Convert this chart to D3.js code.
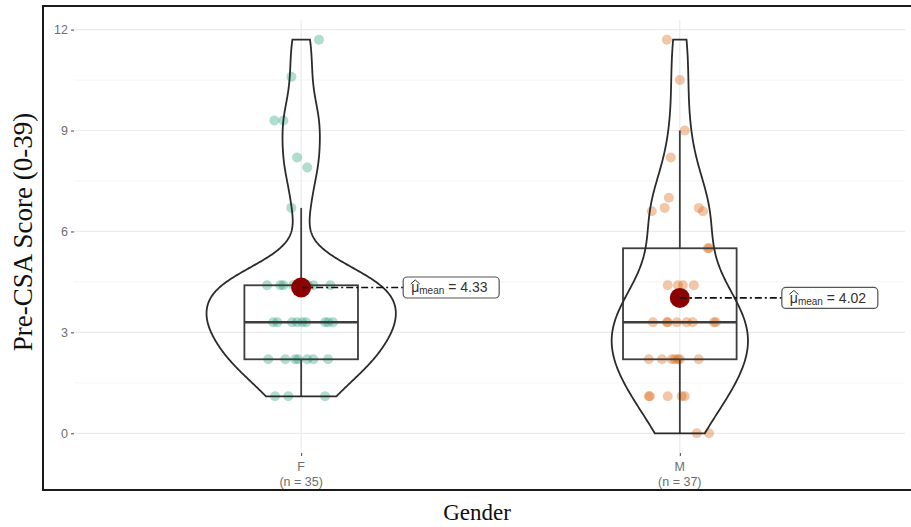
<!DOCTYPE html>
<html>
<head>
<meta charset="utf-8">
<script src="https://cdn.jsdelivr.net/npm/d3@7"></script>
<style>
  body { margin: 0; background: #fff; }
</style>
</head>
<body>
<div id="chart"></div>
<script>
// groups and sample sizes
var groups = ["F", "M"];
var groupN = [35, 37];
var yTicks = [0, 3, 6, 9, 12];
var yMinor = [1.5, 4.5, 7.5, 10.5];

// scores, with the horizontal jitter (in % of category step)
var scoresF = [11.7, 10.6, 9.3, 9.3, 8.2, 7.9, 6.7,
  4.4, 4.4, 4.4, 4.4, 4.4, 4.4, 4.4, 4.4, 4.4,
  3.3, 3.3, 3.3, 3.3, 3.3, 3.3, 3.3, 3.3, 3.3,
  2.2, 2.2, 2.2, 2.2, 2.2, 2.2, 2.2,
  1.1, 1.1, 1.1];
var jitterF = [4.7, -2.6, -7.1, -4.7, -1.1, 1.6, -2.6,
  -9.0, -5.5, -4.7, -2.1, -0.8, 0.8, 1.8, 3.2, 7.7,
  -7.4, -6.3, -2.4, -1.1, 0.3, 1.3, 6.3, 7.1, 8.4,
  -8.7, -4.2, -1.6, -0.8, 1.6, 3.2, 7.1,
  -6.9, -3.4, 6.3];

var scoresM = [11.7, 10.5, 9.0, 8.2, 7.0, 6.7, 6.6, 6.7, 6.6, 5.5, 5.5,
  4.4, 4.4, 4.4, 4.4,
  3.3, 3.3, 3.3, 3.3, 3.3, 3.3, 3.3, 3.3,
  2.2, 2.2, 2.2, 2.2, 2.2, 2.2, 2.2,
  1.1, 1.1, 1.1, 1.1, 1.1,
  0, 0];
var jitterM = [-3.4, 0, 1.3, -2.4, -2.9, -4.0, -7.4, 5.0, 6.1, 7.7, 7.4,
  -3.2, -0.5, 3.7, 0.8,
  -7.1, -3.4, -3.2, -0.8, 1.8, 3.4, 9.0, 9.5,
  -8.2, -4.7, -2.1, -1.3, -0.5, 0, 5.0,
  -8.2, -7.9, -3.2, 0.5, 1.3,
  4.5, 7.7];

var scores = [scoresF, scoresM];
var jitters = [jitterF, jitterM];
var colors = ["#1b9e77", "#d95f02"];

var W = 911, H = 527;
var svg = d3.select("#chart").append("svg")
  .attr("width", W)
  .attr("height", H);

var panel = { left: 74, right: 907, top: 20, bottom: 453 };

var x = d3.scalePoint()
  .domain(groups)
  .range([panel.left, panel.right])
  .padding(0.6);
var step = x.step();

var y = d3.scaleLinear()
  .domain([-0.585, 12.285])
  .range([panel.bottom, panel.top]);

// outer frame of the figure
svg.append("rect")
  .attr("x", 43).attr("y", 6)
  .attr("width", 920).attr("height", 484)
  .attr("fill", "none")
  .attr("stroke", "#1a1a1a")
  .attr("stroke-width", 2);

// grid
var grid = svg.append("g");
grid.selectAll(".minor").data(yMinor).enter().append("line")
  .attr("x1", panel.left).attr("x2", panel.right - 2)
  .attr("y1", function (d) { return y(d); })
  .attr("y2", function (d) { return y(d); })
  .attr("stroke", "#f4f4f4").attr("stroke-width", 1);
grid.selectAll(".major").data(yTicks).enter().append("line")
  .attr("x1", panel.left).attr("x2", panel.right - 2)
  .attr("y1", function (d) { return y(d); })
  .attr("y2", function (d) { return y(d); })
  .attr("stroke", "#ebebeb").attr("stroke-width", 1.2);
grid.selectAll(".vmajor").data(groups).enter().append("line")
  .attr("x1", function (d) { return x(d); })
  .attr("x2", function (d) { return x(d); })
  .attr("y1", panel.top).attr("y2", panel.bottom)
  .attr("stroke", "#ebebeb").attr("stroke-width", 1.2);

// axes
var yAxis = svg.append("g")
  .attr("transform", "translate(" + panel.left + ",0)")
  .call(d3.axisLeft(y).tickValues(yTicks).tickSize(3).tickPadding(3));
yAxis.select(".domain").remove();
yAxis.selectAll(".tick line").attr("stroke", "#444");
yAxis.selectAll("text")
  .attr("font-family", "Liberation Sans, Arial, sans-serif")
  .attr("font-size", 12.5)
  .attr("fill", "#6e6e6e");

var xAxis = svg.append("g")
  .attr("transform", "translate(0," + panel.bottom + ")")
  .call(d3.axisBottom(x).tickSize(3).tickFormat(""));
xAxis.select(".domain").remove();
xAxis.selectAll(".tick line").attr("stroke", "#444");

var xLab = svg.append("g").selectAll("text").data(groups).enter().append("text")
  .attr("text-anchor", "middle")
  .attr("font-family", "Liberation Sans, Arial, sans-serif")
  .attr("font-size", 12.5)
  .attr("fill", "#6e6e6e");
xLab.append("tspan")
  .attr("x", function (d) { return x(d); })
  .attr("y", 471)
  .text(function (d) { return d; });
xLab.append("tspan")
  .attr("x", function (d) { return x(d); })
  .attr("y", 486)
  .text(function (d, i) { return "(n = " + groupN[i] + ")"; });

// axis titles
svg.append("text")
  .attr("transform", "translate(32,232) rotate(-90)")
  .attr("text-anchor", "middle")
  .attr("font-family", "Liberation Serif, Times New Roman, serif")
  .attr("font-size", 27)
  .attr("fill", "#111")
  .text("Pre-CSA Score (0-39)");
svg.append("text")
  .attr("x", 477).attr("y", 520)
  .attr("text-anchor", "middle")
  .attr("font-family", "Liberation Serif, Times New Roman, serif")
  .attr("font-size", 23)
  .attr("fill", "#111")
  .text("Gender");

// points
groups.forEach(function (g, gi) {
  svg.append("g").selectAll("circle")
    .data(scores[gi]).enter().append("circle")
    .attr("cx", function (d, i) { return x(g) + jitters[gi][i] / 100 * step; })
    .attr("cy", function (d) { return y(d); })
    .attr("r", 5)
    .attr("fill", colors[gi])
    .attr("fill-opacity", 0.35);
});

// boxplots
groups.forEach(function (g, gi) {
  var s = scores[gi].slice().sort(d3.ascending);
  var q1 = d3.quantileSorted(s, 0.25), med = d3.quantileSorted(s, 0.5), q3 = d3.quantileSorted(s, 0.75);
  var iqr = q3 - q1;
  var lo = d3.min(s.filter(function (v) { return v >= q1 - 1.5 * iqr - 1e-9; }));
  var hi = d3.max(s.filter(function (v) { return v <= q3 + 1.5 * iqr + 1e-9; }));
  var cx = x(g), hw = 0.15 * step;
  var b = svg.append("g").attr("stroke", "#3d3d3d").attr("fill", "none").attr("stroke-width", 1.8);
  b.append("line").attr("x1", cx).attr("x2", cx).attr("y1", y(q3)).attr("y2", y(hi));
  b.append("line").attr("x1", cx).attr("x2", cx).attr("y1", y(q1)).attr("y2", y(lo));
  b.append("rect").attr("x", cx - hw).attr("width", 2 * hw)
    .attr("y", y(q3)).attr("height", y(q1) - y(q3));
  b.append("line").attr("x1", cx - hw).attr("x2", cx + hw)
    .attr("y1", y(med)).attr("y2", y(med)).attr("stroke-width", 2.6);
});

// violins (gaussian kernel, nrd0 bandwidth, trimmed, scaled by area)
function density(values) {
  var s = values.slice().sort(d3.ascending), n = s.length;
  var sd = d3.deviation(s);
  var iqr = d3.quantileSorted(s, 0.75) - d3.quantileSorted(s, 0.25);
  var bw = 0.9 * Math.min(sd, iqr / 1.34) * Math.pow(n, -0.2);
  var lo = s[0], hi = s[n - 1];
  return d3.range(512).map(function (i) {
    var t = lo + (hi - lo) * i / 511;
    var d = d3.sum(s, function (v) { var z = (t - v) / bw; return Math.exp(-0.5 * z * z); });
    return [t, d / (n * bw * Math.sqrt(2 * Math.PI))];
  });
}
var dens = scores.map(density);
var maxD = d3.max(dens, function (ds) { return d3.max(ds, function (d) { return d[1]; }); });
var wScale = d3.scaleLinear().domain([0, maxD]).range([0, 0.25 * step]);

groups.forEach(function (g, gi) {
  var cx = x(g);
  var area = d3.area()
    .y(function (d) { return y(d[0]); })
    .x0(function (d) { return cx - wScale(d[1]); })
    .x1(function (d) { return cx + wScale(d[1]); });
  svg.append("path")
    .datum(dens[gi])
    .attr("d", area)
    .attr("fill", "none")
    .attr("stroke", "#2b2b2b")
    .attr("stroke-width", 1.8);
});

// means and labels
groups.forEach(function (g, gi) {
  var m = d3.mean(scores[gi]);
  var cx = x(g), cy = y(m);
  var bx = cx + 102, bw = 96, bh = 21;
  svg.append("line")
    .attr("x1", cx).attr("x2", bx)
    .attr("y1", cy).attr("y2", cy)
    .attr("stroke", "#111")
    .attr("stroke-width", 1.6)
    .attr("stroke-dasharray", "7,3,2,3");
  svg.append("circle")
    .attr("cx", cx).attr("cy", cy).attr("r", 10)
    .attr("fill", "#8b0000");
  svg.append("line")
    .attr("x1", cx).attr("x2", cx + 12)
    .attr("y1", cy).attr("y2", cy)
    .attr("stroke", "#111")
    .attr("stroke-width", 1.6)
    .attr("stroke-dasharray", "7,3,2,3");

  var lab = svg.append("g");
  lab.append("rect")
    .attr("x", bx).attr("y", cy - bh / 2)
    .attr("width", bw).attr("height", bh)
    .attr("rx", 4)
    .attr("fill", "#fff")
    .attr("stroke", "#555")
    .attr("stroke-width", 1.2);
  var t = lab.append("text")
    .attr("x", bx + 8).attr("y", cy + 5)
    .attr("font-family", "Liberation Sans, Arial, sans-serif")
    .attr("font-size", 14)
    .attr("fill", "#333");
  t.append("tspan").text("\u03bc");
  t.append("tspan").attr("font-size", 10).attr("dy", 2).text("mean");
  t.append("tspan").attr("dy", -2).text(" = " + d3.format(".2f")(m));
  var muW = t.node().getSubStringLength(0, 1);
  lab.append("path")
    .attr("d", "M" + (bx + 7.5) + "," + (cy - 3.5) + "L" + (bx + 8 + muW / 2) + "," + (cy - 7.5) + "L" + (bx + 8.5 + muW) + "," + (cy - 3.5))
    .attr("fill", "none")
    .attr("stroke", "#333")
    .attr("stroke-width", 1);
});
</script>
</body>
</html>
